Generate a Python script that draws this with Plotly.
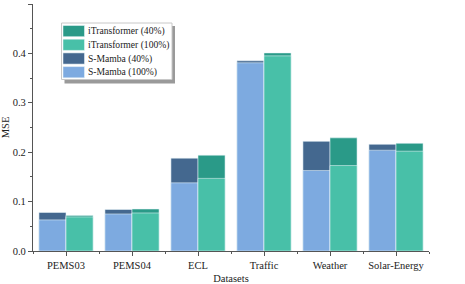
import plotly.graph_objects as go

datasets = ["PEMS03", "PEMS04", "ECL", "Traffic", "Weather", "Solar-Energy"]
smamba_100 = [0.063, 0.075, 0.138, 0.381, 0.163, 0.204]
smamba_40 = [0.078, 0.084, 0.188, 0.385, 0.222, 0.216]
itrans_100 = [0.069, 0.077, 0.147, 0.395, 0.173, 0.202]
itrans_40 = [0.072, 0.085, 0.194, 0.401, 0.229, 0.218]

xpos = list(range(len(datasets)))

C_SM100 = "#7DAAE0"
C_SM40 = "#44688F"
C_IT100 = "#48C0A8"
C_IT40 = "#2A9A88"
LINE = dict(color="rgba(235,245,250,0.9)", width=0.6)
FONT = "Liberation Serif"

W, H = 465, 284
ML, MR, MT, MB = 33, 36, 4, 33
PW, PH = W - ML - MR, H - MT - MB


def px_x(x):
    return (x - ML) / PW


def px_y(y):
    return (H - MB - y) / PH


traces = [
    ("S-Mamba (40%)", smamba_40, C_SM40, "S"),
    ("S-Mamba (100%)", smamba_100, C_SM100, "S"),
    ("iTransformer (40%)", itrans_40, C_IT40, "I"),
    ("iTransformer (100%)", itrans_100, C_IT100, "I"),
]

fig = go.Figure()
for name, vals, color, grp in traces:
    fig.add_trace(go.Bar(x=xpos, y=vals, name=name, offsetgroup=grp,
                         marker=dict(color=color, line=LINE), showlegend=False))

# compact legend drawn like the reference (order: iTransformer first)
legend_order = [2, 3, 0, 1]
shapes = []
annotations = []
bx0, by0, bx1, by1 = 61.5, 23, 172, 79.5
shapes.append(dict(type="rect", xref="paper", yref="paper",
                   x0=px_x(bx0 + 3), x1=px_x(bx1 + 3), y0=px_y(by1 + 4), y1=px_y(by0 + 3),
                   fillcolor="#9a9a9a", line=dict(width=0), layer="above"))
shapes.append(dict(type="rect", xref="paper", yref="paper",
                   x0=px_x(bx0), x1=px_x(bx1), y0=px_y(by1), y1=px_y(by0),
                   fillcolor="white", line=dict(color="#c8c8c8", width=1), layer="above"))
for k, idx in enumerate(legend_order):
    name, _, color, _ = traces[idx]
    top = 25.5 + k * 13.7
    shapes.append(dict(type="rect", xref="paper", yref="paper",
                       x0=px_x(63), x1=px_x(84.5), y0=px_y(top + 11.2), y1=px_y(top),
                       fillcolor=color, line=dict(color="rgba(235,245,250,0.9)", width=0.6),
                       layer="above"))
    annotations.append(dict(xref="paper", yref="paper", x=px_x(85.5), y=px_y(top + 5.6),
                            xanchor="left", yanchor="middle", showarrow=False, text=name,
                            font=dict(family=FONT, size=9.6, color="#222")))

fig.update_layout(
    width=W, height=H,
    margin=dict(l=ML, r=MR, t=MT, b=MB, autoexpand=False),
    paper_bgcolor="white", plot_bgcolor="white",
    barmode="group", bargap=0.18, bargroupgap=0,
    font=dict(family=FONT, size=10, color="#222"),
    showlegend=False,
    shapes=shapes, annotations=annotations,
)

fig.update_xaxes(
    range=[-0.5, 5.5], tickmode="array", tickvals=xpos, ticktext=datasets,
    showline=True, linecolor="#555", linewidth=1.2, automargin=False,
    ticks="outside", ticklen=4, tickcolor="#555", showgrid=False, zeroline=False,
    minor=dict(ticks="outside", ticklen=2, tickcolor="#555", tick0=0.5, dtick=1, showgrid=False),
    title=dict(text="Datasets", font=dict(family=FONT, size=10.5), standoff=4),
    tickfont=dict(family=FONT, size=10.5),
)
fig.update_yaxes(
    range=[0, 0.5], dtick=0.1, tickformat=".1f",
    showline=True, linecolor="#555", linewidth=1.2, automargin=False,
    ticks="outside", ticklen=4, tickcolor="#555", showgrid=False, zeroline=False,
    minor=dict(ticks="outside", ticklen=2, tickcolor="#555", dtick=0.05, showgrid=False),
    title=dict(text="MSE", font=dict(family=FONT, size=10.5), standoff=6),
    tickfont=dict(family=FONT, size=10.5),
)

fig.write_html("out.html", config={"displayModeBar": False},
               post_script="document.body.style.margin='0';")
